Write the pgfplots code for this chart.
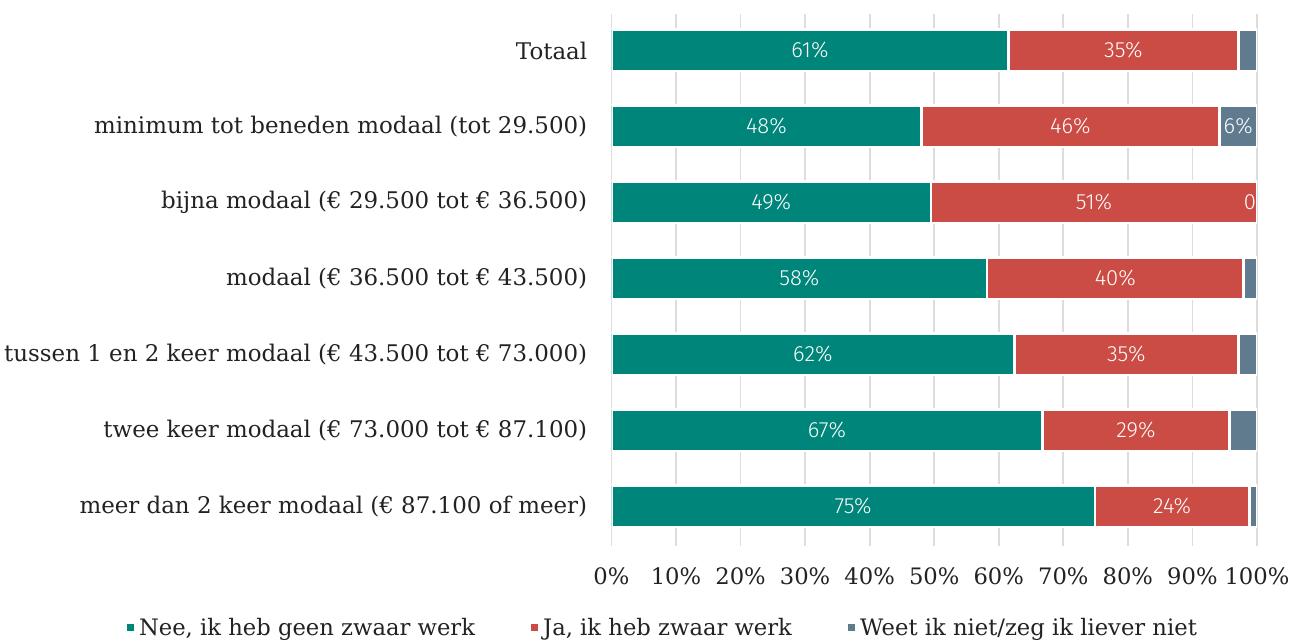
\documentclass[border=0pt]{standalone}
\usepackage{fontspec}
\setmainfont{DejaVu Serif}
\newfontfamily\barfont{Fira Sans}[UprightFont=* Light]
\usepackage{pgfplots}
\usepackage{pgfplotstable}
\pgfplotsset{compat=1.18}
\definecolor{cNee}{RGB}{0,133,122}
\definecolor{cJa}{RGB}{203,76,68}
\definecolor{cWeet}{RGB}{96,122,142}
\definecolor{cGrid}{RGB}{221,221,221}
\definecolor{cText}{RGB}{34,34,34}

\pgfplotstableread{
y nee ja weet
0 61.5 35.6 2.9
1 48.0 46.2 5.8
2 49.5 50.5 0.0
3 58.2 39.7 2.1
4 62.4 34.7 2.9
5 66.8 28.9 4.3
6 74.9 23.9 1.2
}\datatable

\pgfplotstableread{
x y lab
30.75 0 61
79.3 0 35
24.0 1 48
71.1 1 46
97.1 1 6
24.75 2 49
74.75 2 51
29.1 3 58
78.05 3 40
31.2 4 62
79.75 4 35
33.4 5 67
81.25 5 29
37.45 6 75
86.85 6 24
}\labtable

\begin{document}
\begin{tikzpicture}
\useasboundingbox (0,0) rectangle (969.75pt,480.75pt);
\begin{axis}[
  at={(458.6pt,71.25pt)}, anchor=south west,
  width=484.1pt, height=399pt, scale only axis,
  xbar stacked, bar width=31pt,
  xmin=0, xmax=100, ymin=-0.48, ymax=6.52, y dir=reverse,
  axis line style={draw=none}, major tick length=0pt,
  xtick={0,10,...,100},
  xticklabels={0\%,10\%,20\%,30\%,40\%,50\%,60\%,70\%,80\%,90\%,100\%},
  xticklabel style={font=\fontsize{17}{20}\selectfont, text=cText, anchor=center, inner sep=0pt, yshift=-23pt},
  xmajorgrids, grid style={line width=1.3pt, color=cGrid},
  ytick={0,...,6},
  yticklabels={Totaal,
    minimum tot beneden modaal (tot 29.500),
    bijna modaal (€ 29.500 tot € 36.500),
    modaal (€ 36.500 tot € 43.500),
    tussen 1 en 2 keer modaal (€ 43.500 tot € 73.000),
    twee keer modaal (€ 73.000 tot € 87.100),
    meer dan 2 keer modaal (€ 87.100 of meer)},
  yticklabel style={font=\fontsize{17.2}{20}\selectfont, text=cText, anchor=east, inner sep=0pt, xshift=-18pt},
  legend columns=3,
  legend style={at={(0.078,-0.154)}, anchor=center, draw=none, fill=none,
    font=\fontsize{17}{20}\selectfont, text=cText,
    /tikz/every even column/.append style={column sep=38pt}},
  legend image code/.code={\fill[#1] (0pt,-3.6pt) rectangle (7.2pt,3.6pt);},
]
\addplot[fill=cNee, draw=white, line width=2pt] table[x=nee, y=y] {\datatable};
\addlegendentry{Nee, ik heb geen zwaar werk}
\addplot[fill=cJa, draw=white, line width=2pt] table[x=ja, y=y] {\datatable};
\addlegendentry{Ja, ik heb zwaar werk}
\addplot[fill=cWeet, draw=white, line width=2pt] table[x=weet, y=y] {\datatable};
\addlegendentry{Weet ik niet/zeg ik liever niet}
\end{axis}
\begin{axis}[
  at={(458.6pt,71.25pt)}, anchor=south west,
  width=484.1pt, height=399pt, scale only axis,
  xmin=0, xmax=100, ymin=-0.48, ymax=6.52, y dir=reverse,
  hide axis, clip=false,
]
\addplot[only marks, mark=none, point meta=explicit symbolic,
  nodes near coords={\pgfplotspointmeta\%},
  every node near coord/.append style={anchor=center, text=white, font=\barfont\fontsize{16.5}{19}\selectfont}]
  table[x=x, y=y, meta=lab] {\labtable};
\addplot[only marks, mark=none,
  nodes near coords={0},
  every node near coord/.append style={anchor=center, text=white, font=\barfont\fontsize{16.5}{19}\selectfont}]
  coordinates {(98.9,2)};
\end{axis}
\end{tikzpicture}
\end{document}
